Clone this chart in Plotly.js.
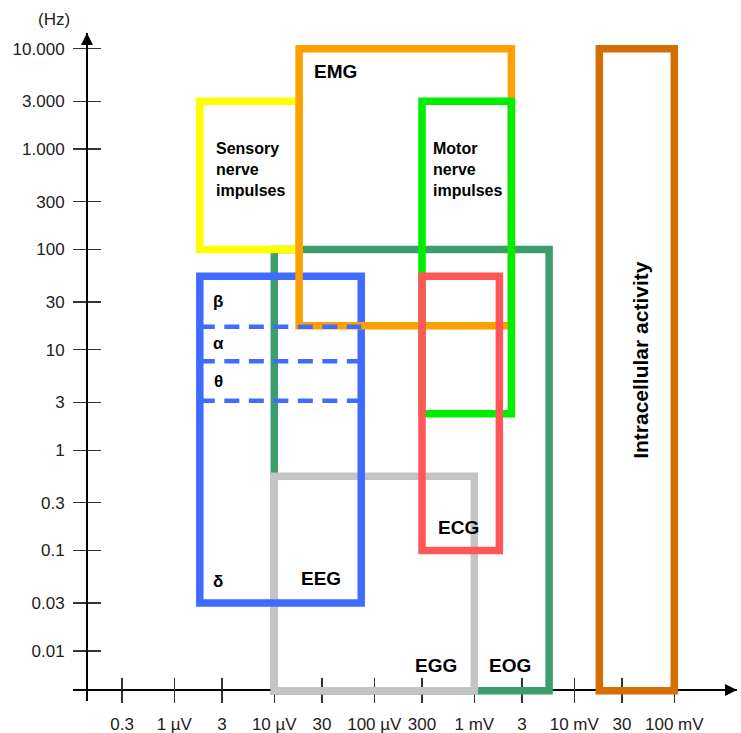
<!DOCTYPE html>
<html>
<head>
<meta charset="utf-8">
<script src="https://cdn.plot.ly/plotly-3.0.1.min.js"></script>
<style>
  html, body { margin: 0; padding: 0; background: #fff; }
  #chart { width: 741px; height: 733px; }
</style>
</head>
<body>
<div id="chart"></div>
<script>
// ---------- DATA ----------
// Amplitude axis values are in microvolts, frequency axis values in Hz.
const xTickVals = [0.3, 1, 3, 10, 30, 100, 300, 1000, 3000, 10000, 30000, 100000];
const xTickText = ['0.3', '1 µV', '3', '10 µV', '30', '100 µV', '300', '1 mV', '3', '10 mV', '30', '100 mV'];
const yTickVals = [0.01, 0.03, 0.1, 0.3, 1, 3, 10, 30, 100, 300, 1000, 3000, 10000];
const yTickText = ['0.01', '0.03', '0.1', '0.3', '1', '3', '10', '30', '100', '300', '1.000', '3.000', '10.000'];

// Signal regions (drawn in this order)
const regionNames = ['EOG', 'EGG', 'EEG', 'Sensory nerve impulses', 'EMG', 'Motor nerve impulses', 'ECG', 'Intracellular activity'];
const ampLow  = [10,    10,    1.8,  1.8,  17.7,  300,  300,  17800];
const ampHigh = [5600,  1000,  74,   17.7, 2350,  2350, 1780, 100000];
const freqLow  = [0.004, 0.004, 0.03, 100,  17.4,  2.3,  0.1,  0.004];
const freqHigh = [100,   0.55,  54,   3000, 10000, 3000, 54,   10000];

// EEG sub-band boundaries (Hz) and band names
const eegBandEdges = [17, 7.7, 3.1];
const eegBandNames = ['β', 'α', 'θ', 'δ'];

// ---------- STYLE ----------
const regionColors = ['#3C9E6C', '#C4C4C4', '#3F6CFF', '#FFFF00', '#FFA000', '#00EE00', '#FF5757', '#D46E00'];
const boxWidth = 7.5;

const W = 741, H = 733;
const M = {l: 73, r: 4, t: 33, b: 32};
const PW = W - M.l - M.r, PH = H - M.t - M.b;
const px = p => (p - M.l) / PW;          // pixel x -> paper
const py = p => (H - M.b - p) / PH;      // pixel y -> paper
const xAxisPos = py(690);
const yAxisPos = px(87);
const xRange = [-1.013, 5.627];
const yRange = [-2.4997, 4.157];

const FAM = '"Liberation Sans", Arial, sans-serif';
const tickFont = {family: FAM, size: 17, color: '#222'};
const boldFont = (s) => ({family: FAM, size: s, color: '#000', weight: 'bold'});

// ---------- SHAPES ----------
const shapes = [];
const idx = n => regionNames.indexOf(n);
const eegIdx = idx('EEG');
regionNames.forEach((name, i) => {
  shapes.push({
    type: 'rect', xref: 'x', yref: 'y', layer: 'above',
    x0: ampLow[i], x1: ampHigh[i], y0: freqLow[i], y1: freqHigh[i],
    line: {color: regionColors[i], width: boxWidth},
    fillcolor: 'rgba(0,0,0,0)'
  });
  if (name === 'EMG') {
    eegBandEdges.forEach(f => {
      shapes.push({
        type: 'line', xref: 'x', yref: 'y', layer: 'above',
        x0: ampLow[eegIdx], x1: ampHigh[eegIdx], y0: f, y1: f,
        line: {color: regionColors[eegIdx], width: 4.5, dash: '15px,9.5px'}
      });
    });
  }
});

// ---------- ANNOTATIONS ----------
const ann = [];
const L = Math.log10;
// label anchored to a data point (log axes take log10 values for annotations)
function dlabel(text, xv, yv, xs, ys, font, opts) {
  ann.push(Object.assign({xref: 'x', yref: 'y', x: L(xv), y: L(yv), xshift: xs, yshift: ys,
    text: text, showarrow: false, font: font, xanchor: 'center', yanchor: 'middle'}, opts || {}));
}
function plabel(text, x, y, font, opts) {
  ann.push(Object.assign({xref: 'paper', yref: 'paper', x: px(x), y: py(y), text: text,
    showarrow: false, font: font, xanchor: 'center', yanchor: 'middle'}, opts || {}));
}
plabel('(Hz)', 53.5, 20, {family: FAM, size: 17, color: '#222'});

let i;
i = idx('EMG');
dlabel('EMG', ampLow[i], freqHigh[i], 36.3, -23, boldFont(19));
i = idx('Sensory nerve impulses');
dlabel('Sensory<br>nerve<br>impulses', ampLow[i], freqHigh[i], 13.8, -68.3, boldFont(16), {xanchor: 'left', align: 'left'});
i = idx('Motor nerve impulses');
dlabel('Motor<br>nerve<br>impulses', ampLow[i], freqHigh[i], 8.5, -68.3, boldFont(16), {xanchor: 'left', align: 'left'});
i = idx('EEG');
dlabel('EEG', ampHigh[i], freqLow[i], -39.8, 24.2, boldFont(19));
i = idx('ECG');
dlabel('ECG', Math.sqrt(ampLow[i] * ampHigh[i]), freqLow[i], -2.4, 23, boldFont(19));
i = idx('EGG');
dlabel('EGG', ampHigh[i], freqLow[i], -38.8, 25.3, boldFont(19));
i = idx('EOG');
dlabel('EOG', ampHigh[i], freqLow[i], -39.3, 25.3, boldFont(19));

// EEG band letters, centred between band edges
const bandBounds = [freqHigh[eegIdx]].concat(eegBandEdges);
eegBandNames.forEach((b, k) => {
  if (k < eegBandEdges.length) {
    dlabel(b, ampLow[eegIdx], Math.sqrt(bandBounds[k] * bandBounds[k + 1]), 18.3, 0, boldFont(17));
  } else {
    dlabel(b, ampLow[eegIdx], freqLow[eegIdx], 18.3, 21.2, boldFont(17));
  }
});

// vertical label inside the intracellular box
i = idx('Intracellular activity');
dlabel('Intracellular activity', Math.sqrt(ampLow[i] * ampHigh[i]), 8, 3.5, 0, boldFont(21), {textangle: -90});

// axis arrowheads
ann.push({xref: 'paper', yref: 'paper', x: 1, y: xAxisPos, ax: -16, ay: 0, text: '',
  showarrow: true, arrowhead: 2, arrowsize: 1.5, arrowwidth: 1.6, arrowcolor: '#000'});
ann.push({xref: 'paper', yref: 'paper', x: yAxisPos, y: 1, ax: 0, ay: 16, text: '',
  showarrow: true, arrowhead: 2, arrowsize: 1.5, arrowwidth: 1.6, arrowcolor: '#000'});

// ---------- AXES ----------
const commonX = {type: 'log', range: xRange, tickmode: 'array', tickvals: xTickVals,
  showgrid: false, zeroline: false, fixedrange: true};
const commonY = {type: 'log', range: yRange, tickmode: 'array', tickvals: yTickVals,
  showgrid: false, zeroline: false, fixedrange: true};

const layout = {
  width: W, height: H,
  margin: M,
  paper_bgcolor: '#fff', plot_bgcolor: '#fff',
  showlegend: false,
  xaxis: Object.assign({}, commonX, {
    anchor: 'free', position: xAxisPos, domain: [0, 1],
    ticktext: xTickText, ticks: 'outside', ticklen: 12, tickwidth: 1.3, tickcolor: '#333',
    showline: true, linecolor: '#000', linewidth: 2, tickfont: tickFont, ticklabelstandoff: 7
  }),
  xaxis2: Object.assign({}, commonX, {
    overlaying: 'x', anchor: 'free', position: xAxisPos,
    ticks: 'inside', ticklen: 12, tickwidth: 1.3, tickcolor: '#333',
    showticklabels: false, showline: false
  }),
  yaxis: Object.assign({}, commonY, {
    anchor: 'free', position: yAxisPos, domain: [0, 1],
    ticktext: yTickText, ticks: 'outside', ticklen: 13, tickwidth: 1.3, tickcolor: '#333',
    showline: true, linecolor: '#000', linewidth: 2, tickfont: tickFont, ticklabelstandoff: 5
  }),
  yaxis2: Object.assign({}, commonY, {
    overlaying: 'y', anchor: 'free', position: yAxisPos,
    ticks: 'inside', ticklen: 13, tickwidth: 1.3, tickcolor: '#333',
    showticklabels: false, showline: false
  }),
  shapes: shapes,
  annotations: ann
};

const data = [
  {type: 'scatter', x: [], y: [], xaxis: 'x', yaxis: 'y', hoverinfo: 'skip'},
  {type: 'scatter', x: [], y: [], xaxis: 'x2', yaxis: 'y', hoverinfo: 'skip'},
  {type: 'scatter', x: [], y: [], xaxis: 'x', yaxis: 'y2', hoverinfo: 'skip'}
];

Plotly.newPlot('chart', data, layout, {staticPlot: true, displayModeBar: false});
</script>
</body>
</html>
